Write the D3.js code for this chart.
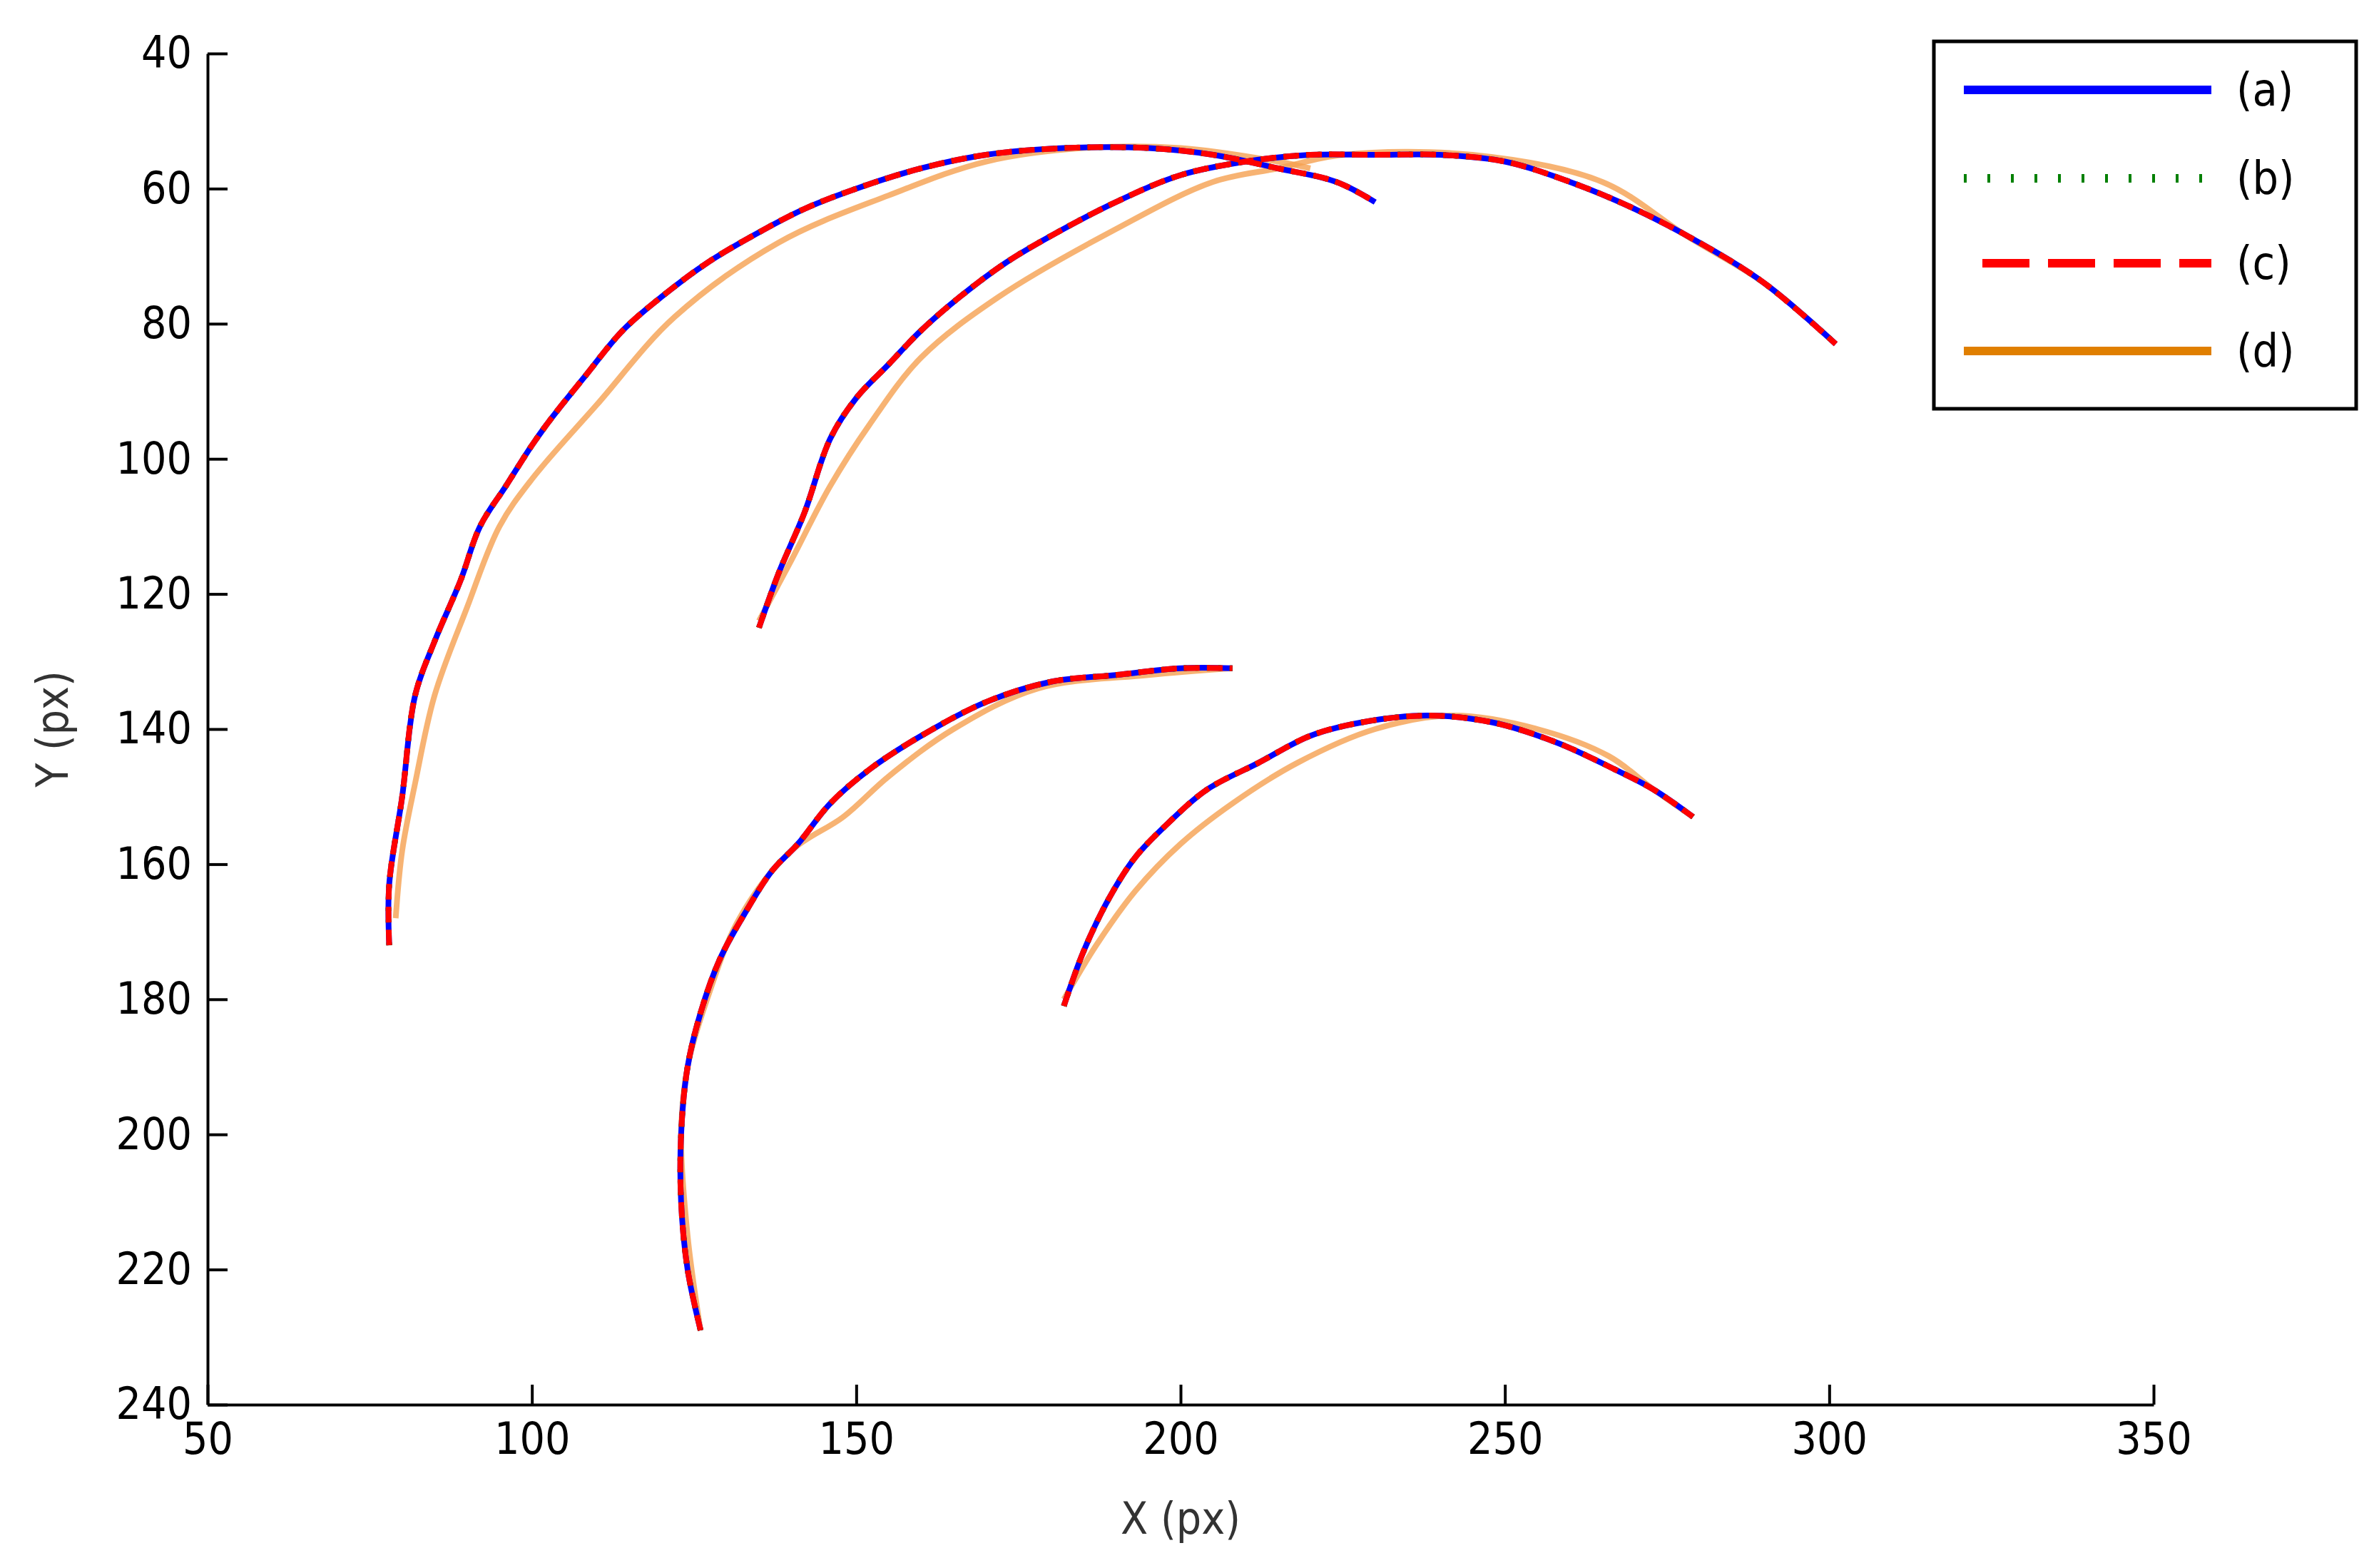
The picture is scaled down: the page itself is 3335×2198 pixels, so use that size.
<!DOCTYPE html>
<html><head><meta charset="utf-8">
<script src="https://cdn.jsdelivr.net/npm/d3@7"></script>
<style>body{margin:0;background:#fff}svg{display:block}text{font-family:"Liberation Sans Narrow","DejaVu Sans Condensed","Liberation Sans",Arial,sans-serif;font-stretch:condensed}</style>
</head><body><div id="chart"></div>
<script>
// arcs for series (a); (b) and (c) trace the same pixels
const arcA1 = [[78,172],[78,163],[80,150],[82,135],[85,127],[89,118],[92,110],[96,104],[100,98],[103,94],[108,88],[114,81],[120,76],[127,71],[134,67],[142,63],[150,60],[160,57],[170,55],[182,54],[195,54],[205,55],[215,57],[224,59],[230,62]];
const arcA2 = [[135,125],[138,117],[142,108],[146,97],[150,91],[155,86],[160,81],[166,76],[173,71],[180,67],[190,62],[200,58],[210,56],[220,55],[230,55],[240,55],[250,56],[260,59],[270,63],[280,68],[290,74],[301,83]];
const arcA3 = [[126,229],[124,220],[123,210],[123,200],[124,190],[126,182],[129,174],[133,167],[137,161],[141,157],[146,151],[152,146],[160,141],[170,136],[180,133],[190,132],[200,131],[208,131]];
const arcA4 = [[182,181],[185,173],[189,165],[193,159],[198,154],[204,149],[212,145],[220,141],[228,139],[238,138],[248,139],[258,142],[267,146],[273,149],[279,153]];
const arcD1 = [[79,168],[80,158],[82,148],[85,135],[90,122],[95,110],[100,103],[110,92],[122,79],[138,68],[155,61],[170,56],[185,54],[200,54],[215,56],[220,57]];
const arcD2 = [[135,124],[140,115],[146,104],[152,95],[160,85],[172,76],[190,66],[205,59],[215,57],[225,55],[245,55],[265,59],[278,67],[290,74],[301,83]];
const arcD3 = [[126,229],[124,215],[123,200],[124,190],[127,180],[132,168],[140,158],[148,153],[155,147],[165,140],[178,134],[195,132],[208,131]];
const arcD4 = [[182,180],[187,172],[193,164],[200,157],[208,151],[218,145],[230,140],[242,138],[255,140],[266,144],[273,149],[279,153]];

const seriesA = [arcA1, arcA2, arcA3, arcA4];
const seriesB = [arcA1, arcA2, arcA3, arcA4];
const seriesC = [arcA1, arcA2, arcA3, arcA4];
const seriesD = [arcD1, arcD2, arcD3, arcD4];
const legendLabels = ["(a)", "(b)", "(c)", "(d)"];
const xTicks = [50,100,150,200,250,300,350];
const yTicks = [40,60,80,100,120,140,160,180,200,220,240];

const W = 3335, H = 2198;
const margin = {left: 291, right: 316, top: 75, bottom: 229};
const svg = d3.select("#chart").append("svg").attr("width", W).attr("height", H);

const x = d3.scaleLinear().domain([50,350]).range([margin.left, 3019]);
const y = d3.scaleLinear().domain([40,240]).range([margin.top, H - margin.bottom]);

// axes, MATLAB style ticks pointing inward
const xAxis = svg.append("g").attr("transform", "translate(0," + y(240) + ")")
	.call(d3.axisBottom(x).tickValues(xTicks).tickSizeInner(-28).tickSizeOuter(0).tickPadding(22));
const yAxis = svg.append("g").attr("transform", "translate(" + x(50) + ",0)")
	.call(d3.axisLeft(y).tickValues(yTicks).tickSizeInner(-28).tickSizeOuter(0).tickPadding(22));
[xAxis, yAxis].forEach(a => {
	a.selectAll("path,line").attr("stroke", "#000").attr("stroke-width", 4);
	a.selectAll("text").style("font-size", "62px").attr("fill", "#000");
});
xAxis.selectAll("text").attr("dy", "0.75em");

svg.append("text").attr("x", x(200)).attr("y", 2150).attr("text-anchor", "middle")
	.style("font-size", "62px").attr("fill", "#333").text("X (px)");
svg.append("text").attr("transform", "translate(95," + y(140) + ") rotate(-90)")
	.attr("text-anchor", "middle").style("font-size", "62px").attr("fill", "#333").text("Y (px)");

const line = d3.line().x(d => x(d[0])).y(d => y(d[1])).curve(d3.curveCatmullRom);
const styles = [
	{data: seriesD, color: "#f5a050", dash: null, width: 8, opacity: 0.8},
	{data: seriesA, color: "#0000ff", dash: null, width: 8, opacity: 1},
	{data: seriesB, color: "#008000", dash: "4,12", width: 8, opacity: 1},
	{data: seriesC, color: "#ff0000", dash: "22,10", width: 8, opacity: 1}
];
styles.forEach(s => {
	svg.append("g").selectAll("path").data(s.data).enter().append("path")
		.attr("d", line).attr("fill", "none")
		.attr("stroke", s.color).attr("stroke-width", s.width)
		.attr("stroke-opacity", s.opacity)
		.attr("stroke-dasharray", s.dash);
});

// legend
const lg = svg.append("g");
lg.append("rect").attr("x", 2711).attr("y", 58).attr("width", 592).attr("height", 515)
	.attr("fill", "#fff").attr("stroke", "#000").attr("stroke-width", 5);
const legendStyles = [
	{color: "#0000ff", dash: null, x1: 2753},
	{color: "#008000", dash: "4,29", x1: 2753},
	{color: "#ff0000", dash: "66,26", x1: 2779},
	{color: "#e07f00", dash: null, x1: 2753}
];
const rowY = [126, 250, 369, 492];
legendLabels.forEach((lab, i) => {
	lg.append("line").attr("x1", legendStyles[i].x1).attr("x2", 3100)
		.attr("y1", rowY[i]).attr("y2", rowY[i])
		.attr("stroke", legendStyles[i].color).attr("stroke-width", 12)
		.attr("stroke-dasharray", legendStyles[i].dash);
	lg.append("text").attr("x", 3135).attr("y", rowY[i]).attr("dy", "0.35em")
		.style("font-size", "64px").text(lab);
});
</script></body></html>
